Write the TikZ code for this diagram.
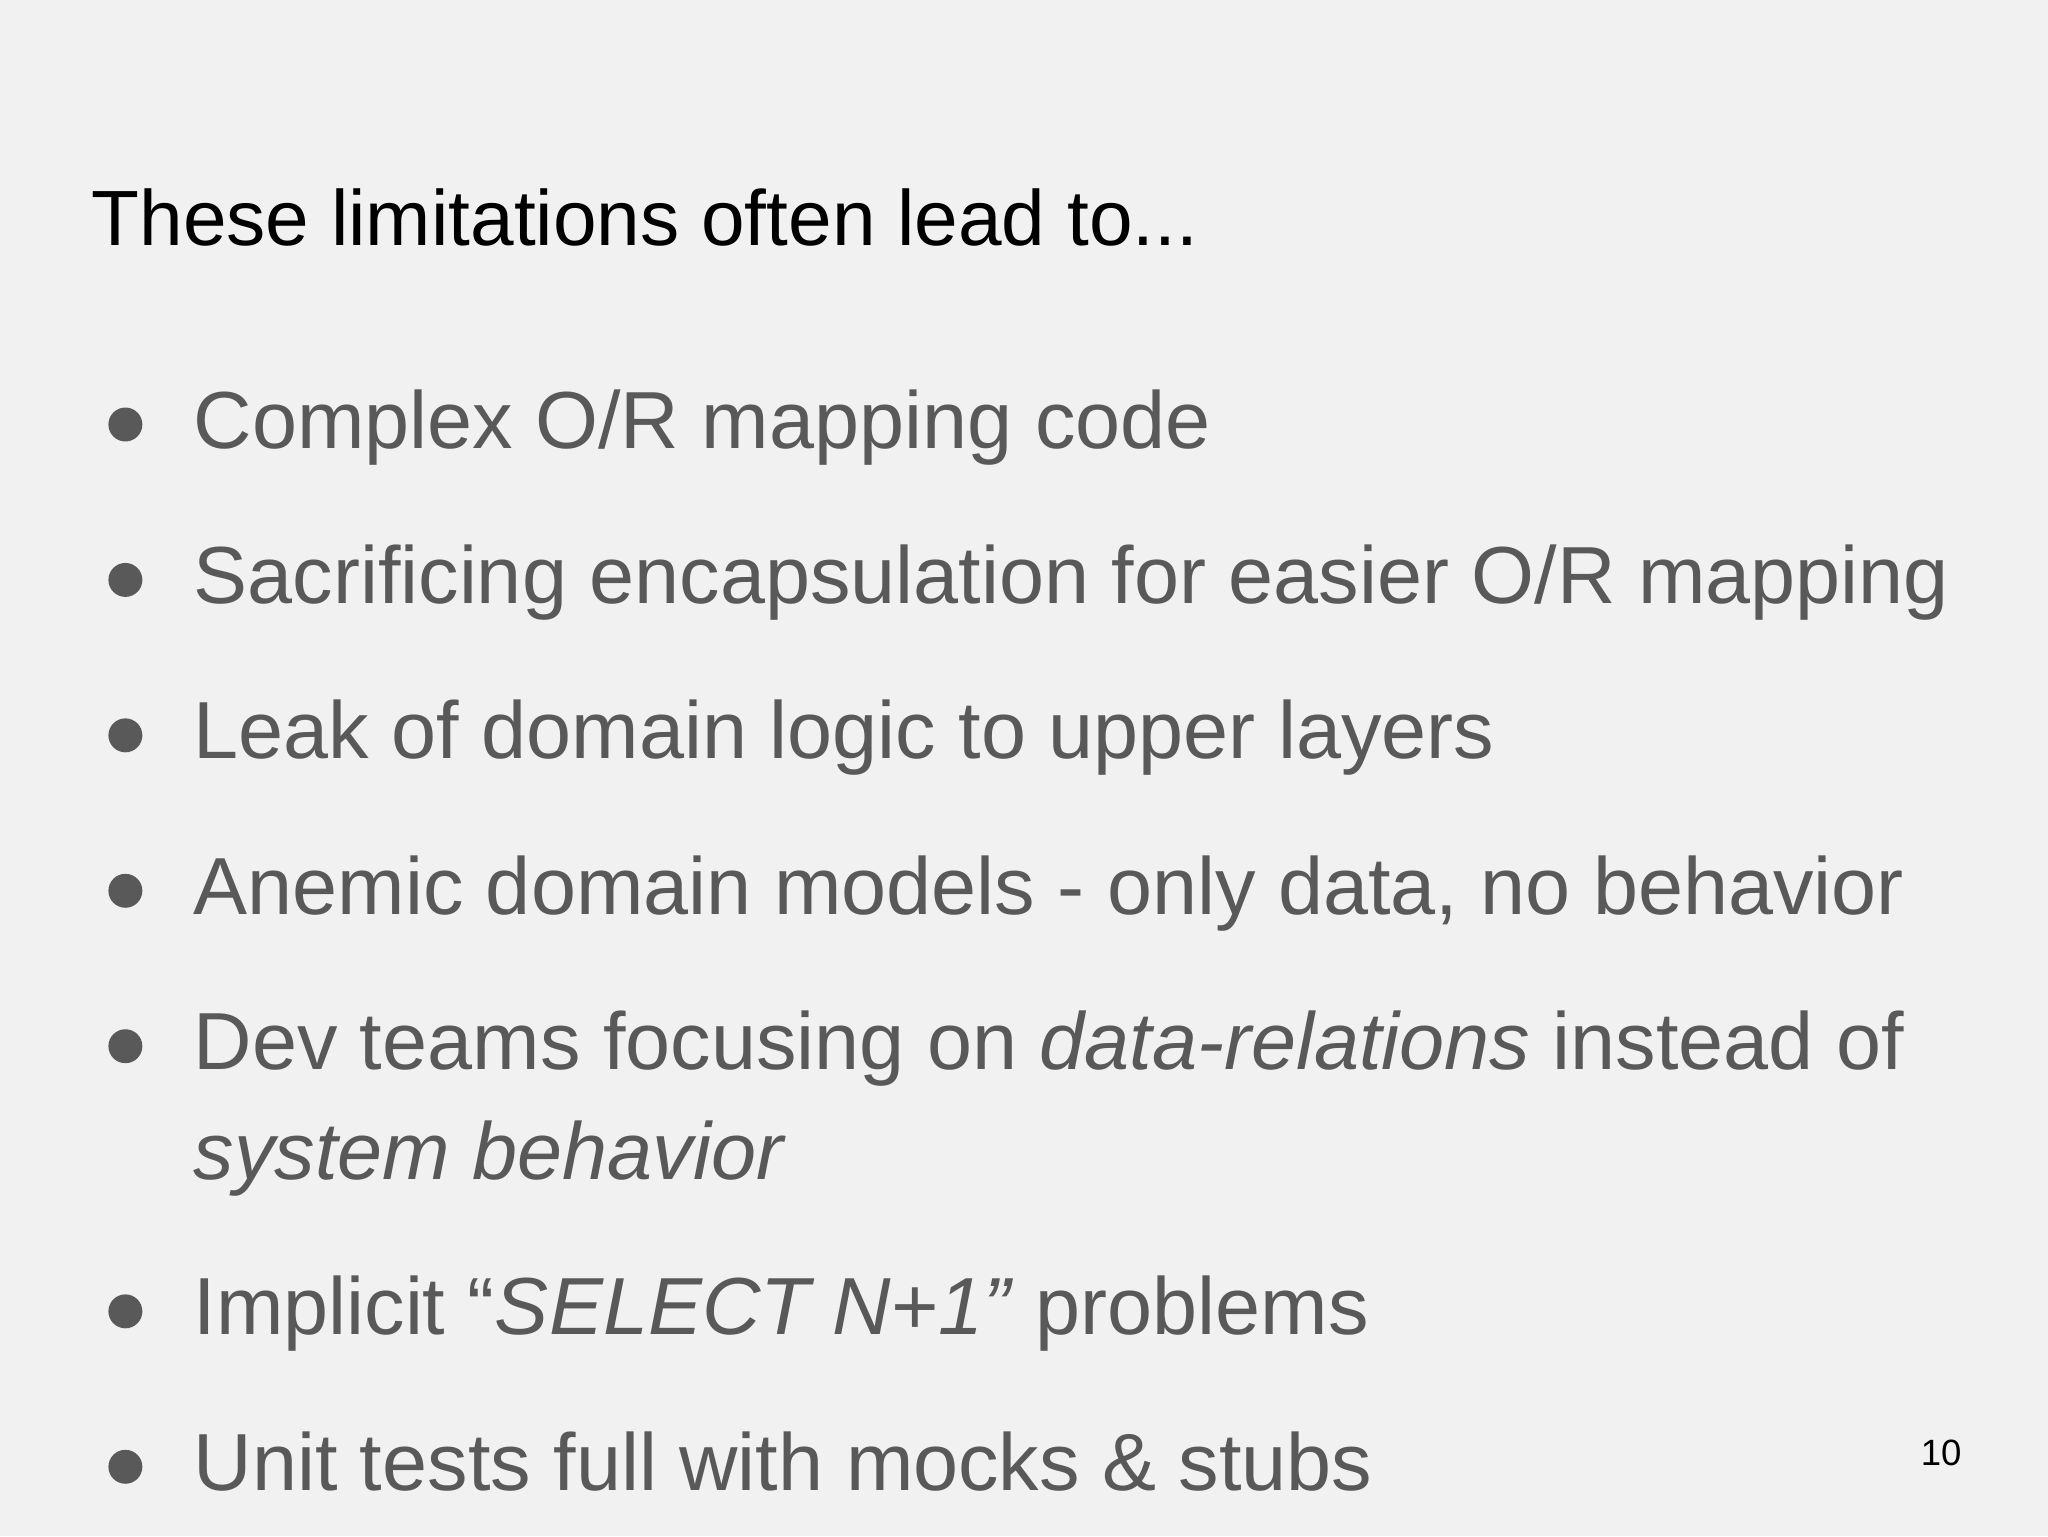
\documentclass[tikz,border=0pt]{standalone}
\usepackage{fontspec}
\setmainfont{Liberation Sans}
\definecolor{bg}{HTML}{F1F1F1}
\definecolor{tx}{HTML}{595959}
\begin{document}
\begin{tikzpicture}[x=1pt,y=-1pt,
  item/.style={anchor=base west,inner sep=0pt,text=tx,font=\fontsize{62}{70}\selectfont},
  dot/.style={circle,fill=tx,inner sep=0pt,minimum size=26pt}]
\fill[bg] (0,0) rectangle (1568,1176);
\useasboundingbox (0,0) rectangle (1568,1176);
\node[anchor=base west,inner sep=0pt,font=\fontsize{60}{70}\selectfont] (title) at (70,188) {These limitations often lead to...};
\foreach \y/\t [count=\i] in {343/{Complex O/R mapping code},462/{Sacrificing encapsulation for easier O/R mapping},581/{Leak of domain logic to upper layers},700/{Anemic domain models - only data, no behavior},819/{Dev teams focusing on \textit{data-relations} instead of},1022/{Implicit “\textit{SELECT N+1”} problems},1141/{Unit tests full with mocks \& stubs}}{
  \node[item] (b\i) at (148,\y) {\t};
  \node[dot] (d\i) at (96,\y-18) {};
}
\node[item] (b5b) at (148,903) {\textit{system behavior}};
\node[anchor=base east,inner sep=0pt,font=\fontsize{28}{32}\selectfont] (pg) at (1502,1122) {10};
\end{tikzpicture}
\end{document}
